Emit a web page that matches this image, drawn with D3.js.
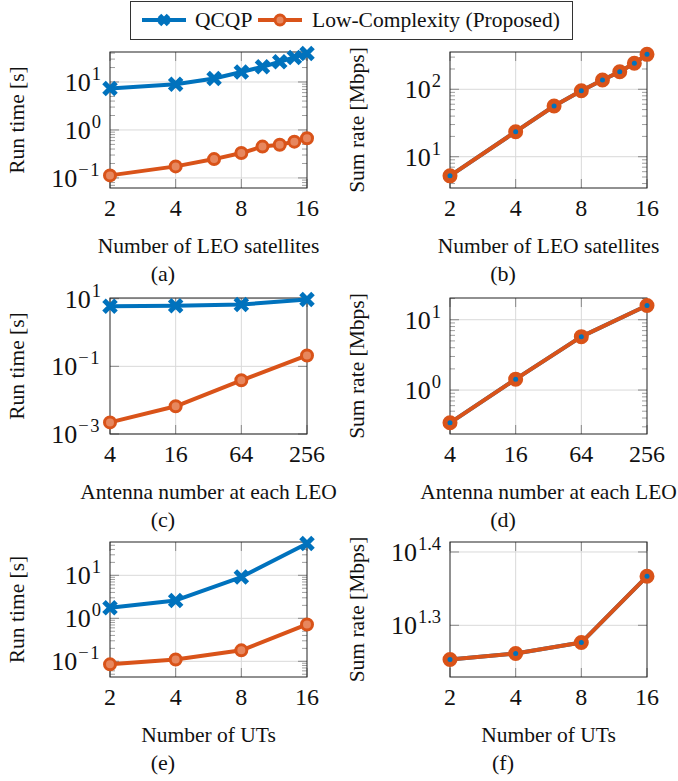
<!DOCTYPE html>
<html>
<head>
<meta charset="utf-8">
<script src="https://cdn.jsdelivr.net/npm/d3@7"></script>
</head>
<body style="margin:0;background:#fff">
<div id="chart"></div>
<script>
// ---- data ----
const seriesNames = ["QCQP", "Low-Complexity (Proposed)"];

const satX = [2, 4, 6, 8, 10, 12, 14, 16];
const satRunQCQP = [7.3, 9.0, 11.8, 16.1, 20.7, 26.4, 32.5, 39.3];
const satRunLow = [0.113, 0.174, 0.247, 0.33, 0.45, 0.49, 0.57, 0.67];
const satRateQCQP = [5.2, 23.5, 56.5, 95, 137, 182, 243, 330];
const satRateLow = [5.2, 23.5, 56.5, 95, 137, 182, 243, 330];

const antX = [4, 16, 64, 256];
const antRunQCQP = [6.0, 6.2, 6.7, 9.4];
const antRunLow = [0.0022, 0.0066, 0.0386, 0.21];
const antRateQCQP = [0.342, 1.43, 5.75, 15.9];
const antRateLow = [0.342, 1.43, 5.75, 15.9];

const utX = [2, 4, 8, 16];
const utRunQCQP = [1.77, 2.6, 9.1, 55];
const utRunLow = [0.085, 0.11, 0.18, 0.72];
const utRateQCQP = [17.92, 18.26, 18.9, 23.27];
const utRateLow = [17.92, 18.26, 18.9, 23.27];

// tick exponents (labels are 10^e)
const satRunTicks = ["-1", "0", "1"];
const satRateTicks = ["1", "2"];
const antRunTicks = ["-3", "-1", "1"];
const antRateTicks = ["0", "1"];
const utRunTicks = ["-1", "0", "1"];
const utRateTicks = ["1.3", "1.4"];

const xLabels = ["Number of LEO satellites", "Antenna number at each LEO", "Number of UTs"];
const yLabels = ["Run time [s]", "Sum rate [Mbps]"];
const subLabels = ["(a)", "(b)", "(c)", "(d)", "(e)", "(f)"];

// ---- layout ----
const W = 678, H = 781;
const FONT = '"Liberation Serif", "Times New Roman", Tinos, serif';
const blue = "#0072BD", orange = "#D95319";
const cols = [{ x0: 110, x1: 307, sub: 163, ylab: 24 }, { x0: 450, x1: 647, sub: 503, ylab: 364 }];
const rows = [{ y0: 52, y1: 188 }, { y0: 298, y1: 434 }, { y0: 542, y1: 677 }];

const panels = [
  { r: 0, c: 0, x: satX, a: satRunQCQP, b: satRunLow, ticks: satRunTicks, dom: [-1.21, 1.625], minor: true, rate: false },
  { r: 0, c: 1, x: satX, a: satRateQCQP, b: satRateLow, ticks: satRateTicks, dom: [0.536, 2.553], minor: true, rate: true },
  { r: 1, c: 0, x: antX, a: antRunQCQP, b: antRunLow, ticks: antRunTicks, dom: [-3, 1.02], minor: false, rate: false },
  { r: 1, c: 1, x: antX, a: antRateQCQP, b: antRateLow, ticks: antRateTicks, dom: [-0.625, 1.309], minor: true, rate: true },
  { r: 2, c: 0, x: utX, a: utRunQCQP, b: utRunLow, ticks: utRunTicks, dom: [-1.365, 1.775], minor: true, rate: false },
  { r: 2, c: 1, x: utX, a: utRateQCQP, b: utRateLow, ticks: utRateTicks, dom: [1.2295, 1.4136], minor: false, rate: true }
];
const xTickSets = [[2, 4, 8, 16], [4, 16, 64, 256], [2, 4, 8, 16]];

const svg = d3.select("#chart").append("svg")
  .attr("width", W).attr("height", H);

function txt(sel, size) {
  return sel.append("text")
    .style("font-family", FONT)
    .style("font-size", size + "px")
    .style("fill", "#111");
}

function crossPath(s) {
  return `M${-s},${-s}L${s},${s}M${-s},${s}L${s},${-s}`;
}

panels.forEach((p, i) => {
  const col = cols[p.c], row = rows[p.r];
  const xs = d3.scaleLog().base(2).domain([p.x[0], p.x[p.x.length - 1]]).range([col.x0, col.x1]);
  const ys = d3.scaleLog().domain([Math.pow(10, p.dom[0]), Math.pow(10, p.dom[1])]).range([row.y1, row.y0]);
  const g = svg.append("g");

  const xTicks = xTickSets[p.r];
  const yTicks = p.ticks.map(e => Math.pow(10, +e));

  // grid
  g.selectAll(".gx").data(xTicks.slice(1, -1)).enter().append("line")
    .attr("x1", d => xs(d)).attr("x2", d => xs(d))
    .attr("y1", row.y0).attr("y2", row.y1)
    .attr("stroke", "#d9d9d9").attr("stroke-width", 1);
  g.selectAll(".gy").data(yTicks).enter().append("line")
    .attr("x1", col.x0).attr("x2", col.x1)
    .attr("y1", d => ys(d)).attr("y2", d => ys(d))
    .attr("stroke", "#d9d9d9").attr("stroke-width", 1);

  // minor ticks
  if (p.minor) {
    const minors = [];
    for (let e = Math.floor(p.dom[0]); e <= Math.ceil(p.dom[1]); e++) {
      for (let m = 2; m <= 9; m++) {
        const v = m * Math.pow(10, e);
        if (ys(v) >= row.y0 && ys(v) <= row.y1) minors.push(v);
      }
    }
    [[col.x0, 5], [col.x1, -5]].forEach(([x, l]) => {
      g.selectAll(null).data(minors).enter().append("line")
        .attr("x1", x).attr("x2", x + l)
        .attr("y1", d => ys(d)).attr("y2", d => ys(d))
        .attr("stroke", "#888").attr("stroke-width", 0.8);
    });
  }
  // major ticks
  [[col.x0, 9], [col.x1, -9]].forEach(([x, l]) => {
    g.selectAll(null).data(yTicks).enter().append("line")
      .attr("x1", x).attr("x2", x + l)
      .attr("y1", d => ys(d)).attr("y2", d => ys(d))
      .attr("stroke", "#888").attr("stroke-width", 1);
  });
  [[row.y1, -9], [row.y0, 9]].forEach(([y, l]) => {
    g.selectAll(null).data(xTicks).enter().append("line")
      .attr("x1", d => xs(d)).attr("x2", d => xs(d))
      .attr("y1", y).attr("y2", y + l)
      .attr("stroke", "#888").attr("stroke-width", 1);
  });

  // frame
  g.append("rect")
    .attr("x", col.x0).attr("y", row.y0)
    .attr("width", col.x1 - col.x0).attr("height", row.y1 - row.y0)
    .attr("fill", "none").attr("stroke", "#222").attr("stroke-width", 1);

  // y tick labels
  p.ticks.forEach(e => {
    const t = txt(g, 26)
      .attr("x", col.x0 - 9).attr("y", ys(Math.pow(10, +e)) + 9)
      .attr("text-anchor", "end");
    t.append("tspan").text("10");
    const neg = e.startsWith("-");
    t.append("tspan").attr("dy", -11).attr("dx", 1).style("font-size", "18.5px")
      .style("letter-spacing", neg ? "1.5px" : "0px")
      .text(e.replace("-", "\u2212"));
  });
  // x tick labels
  xTicks.forEach(d => {
    txt(g, 24).attr("x", xs(d)).attr("y", row.y1 + 28)
      .attr("text-anchor", "middle").text(d);
  });

  // axis labels
  txt(g, 21.5)
    .attr("x", (col.x0 + col.x1) / 2).attr("y", row.y1 + 65)
    .attr("text-anchor", "middle")
    .text(xLabels[p.r]);
  txt(g, 21.5)
    .attr("transform", `translate(${col.ylab},${(row.y0 + row.y1) / 2}) rotate(-90)`)
    .attr("text-anchor", "middle")
    .text(yLabels[p.c]);

  // sub caption
  txt(g, 22)
    .attr("x", col.sub).attr("y", row.y1 + 93)
    .attr("text-anchor", "middle")
    .text(subLabels[i]);

  // series
  const line = d3.line().x(d => xs(d[0])).y(d => ys(d[1]));
  const dA = p.x.map((x, k) => [x, p.a[k]]);
  const dB = p.x.map((x, k) => [x, p.b[k]]);

  g.append("path").datum(dA).attr("d", line)
    .attr("fill", "none").attr("stroke", blue).attr("stroke-width", 4)
    .attr("stroke-linejoin", "round");
  if (!p.rate) {
    g.selectAll(null).data(dA).enter().append("path")
      .attr("transform", d => `translate(${xs(d[0])},${ys(d[1])})`)
      .attr("d", crossPath(6))
      .attr("stroke", blue).attr("stroke-width", 5).attr("fill", "none");
  }
  g.append("path").datum(dB).attr("d", line)
    .attr("fill", "none").attr("stroke", orange).attr("stroke-width", 4)
    .attr("stroke-linejoin", "round");
  g.selectAll(null).data(dB).enter().append("circle")
    .attr("cx", d => xs(d[0])).attr("cy", d => ys(d[1]))
    .attr("r", p.rate ? 6.5 : 5.5)
    .attr("fill", p.rate ? orange : "#e7875e")
    .attr("stroke", orange).attr("stroke-width", p.rate ? 2 : 3);
  if (p.rate) {
    g.selectAll(null).data(dA).enter().append("circle")
      .attr("cx", d => xs(d[0])).attr("cy", d => ys(d[1]))
      .attr("r", 2.5).attr("fill", blue);
  }
});

// legend
const lg = svg.append("g");
lg.append("rect").attr("x", 130.5).attr("y", 1.5).attr("width", 442).attr("height", 38)
  .attr("fill", "#fff").attr("stroke", "#333").attr("stroke-width", 1);
const legendItems = [
  { name: seriesNames[0], color: blue, x: 142, tx: 195 },
  { name: seriesNames[1], color: orange, x: 258, tx: 312 }
];
legendItems.forEach((it, k) => {
  lg.append("line").attr("x1", it.x).attr("x2", it.x + 44)
    .attr("y1", 20).attr("y2", 20)
    .attr("stroke", it.color).attr("stroke-width", 4);
  if (k === 0) {
    lg.append("path").attr("transform", `translate(${it.x + 22},20)`)
      .attr("d", crossPath(4.5)).attr("stroke", it.color).attr("stroke-width", 5);
  } else {
    lg.append("circle").attr("cx", it.x + 22).attr("cy", 20).attr("r", 5)
      .attr("fill", "#e7875e").attr("stroke", it.color).attr("stroke-width", 3);
  }
  txt(lg, 21.5).attr("x", it.tx).attr("y", 27).text(it.name);
});
</script>
</body>
</html>
